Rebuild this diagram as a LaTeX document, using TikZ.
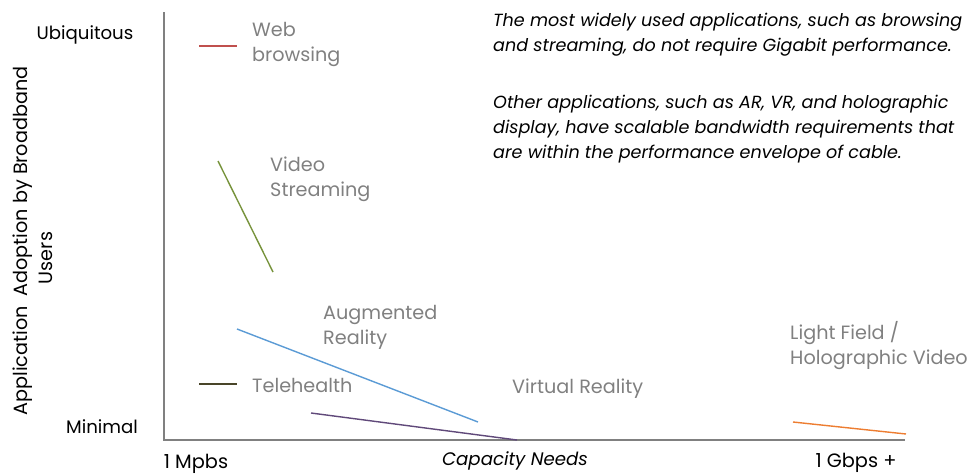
\documentclass[tikz,border=0pt]{standalone}
\usepackage{fontspec}
\setmainfont{Poppins}
\usetikzlibrary{positioning}
\definecolor{axisgray}{RGB}{128,128,128}
\definecolor{labelgray}{RGB}{128,128,128}
\definecolor{webred}  {RGB}{192,80, 77}
\definecolor{vidgreen}{RGB}{119,147,60}
\definecolor{arblue}  {RGB}{91, 155,213}
\definecolor{teleolive}{RGB}{73, 69, 41}
\definecolor{vrpurple}{RGB}{96, 73, 122}
\definecolor{lforange}{RGB}{237,125,49}

\begin{document}
\begin{tikzpicture}[
  x=0.03cm, y=-0.03cm,
  axistext/.style={font=\fontsize{15.5}{20}\selectfont, inner sep=0pt, anchor=base},
  applabel/.style={font=\fontsize{16.4}{21.3}\selectfont, labelgray, align=left,
    anchor=north west, inner sep=0pt},
  notetext/.style={font=\fontsize{15}{21.3}\selectfont\itshape, align=left,
    anchor=north west, inner sep=0pt},
  appline/.style={line width=1.2pt},
]
\useasboundingbox (0,0) rectangle (979,474);

% ── 軸 ──────────────────────────────────────────────────────
\draw[axisgray, line width=1.4pt] (164,12) -- (164,440) -- (905,440);

% ── 軸ラベル ────────────────────────────────────────────────
\node[axistext] (ubiq) at (85,39) {Ubiquitous};
\node[axistext] (minimal) at (102,433) {Minimal};
\node[axistext, font=\fontsize{16.4}{20}\selectfont, rotate=90] (yaxis) at (28,241)
  {Application\enspace Adoption by Broadband};
\node[axistext, font=\fontsize{16.4}{20}\selectfont, rotate=90] (yusers) at (52,258)
  {Users};
\node[axistext, font=\fontsize{16.5}{20}\selectfont] (lowcap) at (196,468) {1 Mpbs};
\node[axistext, font=\fontsize{15.5}{20}\selectfont\itshape] (capacity) at (515,465)
  {Capacity Needs};
\node[axistext, font=\fontsize{16.5}{20}\selectfont] (highcap) at (856,467) {1 Gbps +};

% ── アプリケーション ────────────────────────────────────────
% Web browsing
\draw[webred, appline] (199,46) -- (237,46);
\node[applabel] (web) at (252,22) {Web\\browsing};

% Video Streaming
\draw[vidgreen, appline] (218,161) -- (273,272);
\node[applabel] (video) at (270,157) {Video\\Streaming};

% Augmented Reality
\draw[arblue, appline] (237,329) -- (478,422);
\node[applabel] (ar) at (323,305) {Augmented\\Reality};

% Telehealth
\draw[teleolive, appline] (199,384) -- (237,384);
\node[applabel] (tele) at (252,378) {Telehealth};

% Virtual Reality
\draw[vrpurple, appline] (311,413) -- (517,440);
\node[applabel] (vr) at (512,379) {Virtual Reality};

% Light Field / Holographic Video
\draw[lforange, appline] (793,422) -- (906,434);
\node[applabel] (lightfield) at (790,321) {Light Field /\\Holographic Video};

% ── 注釈 ────────────────────────────────────────────────────
\node[notetext] (note) at (493,13)
  {The most widely used applications, such as browsing\\
   and streaming, do not require Gigabit performance.\\[27.5pt]
   Other applications, such as AR, VR, and holographic\\
   display, have scalable bandwidth requirements that\\
   are within the performance envelope of cable.};

\end{tikzpicture}
\end{document}
